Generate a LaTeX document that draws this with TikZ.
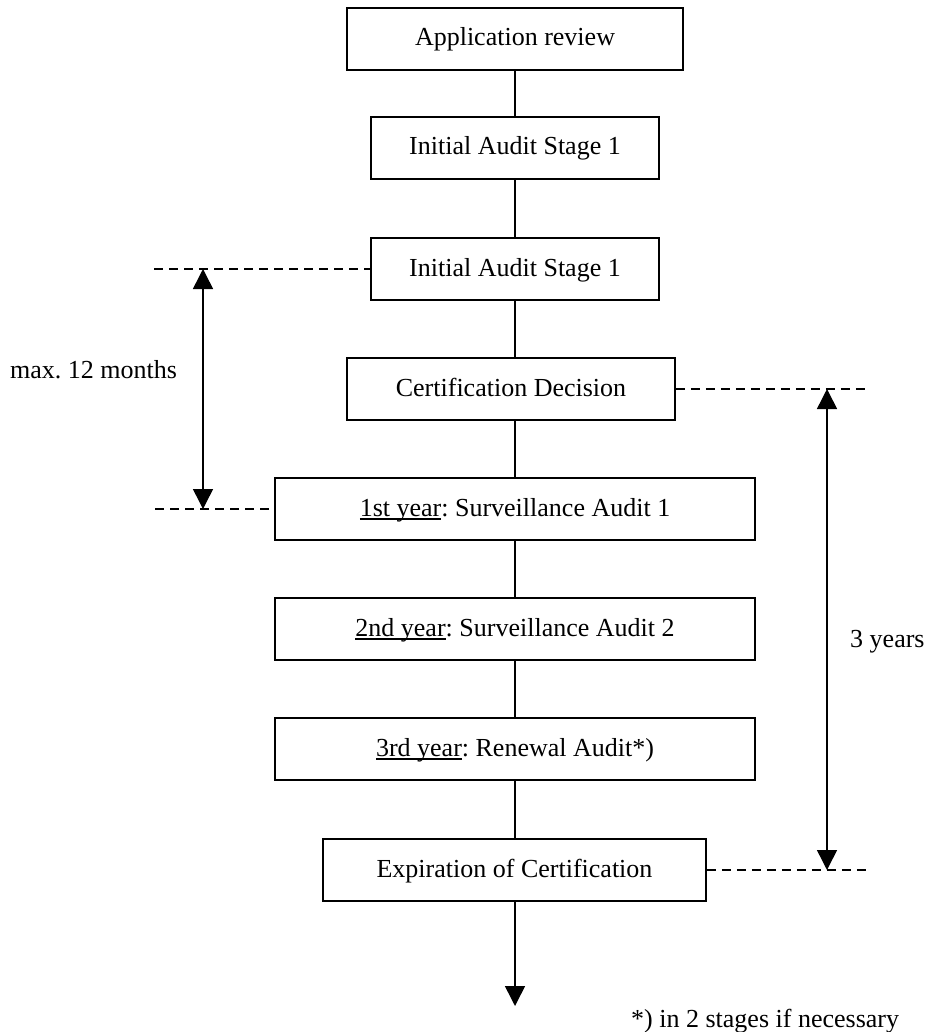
\documentclass[tikz,border=0pt]{standalone}
\usepackage{fontspec}
\setmainfont{Liberation Serif}
\usetikzlibrary{arrows.meta}
\frenchspacing
\newcommand\myul[1]{\leavevmode\setbox0\hbox{#1}\rlap{\rule[-3.5pt]{\wd0}{1.4pt}}\box0}
\tikzset{
  box/.style={draw, line width=1.6pt, minimum height=62pt, inner sep=0pt,
    text height=17pt, text depth=3pt, align=center},
  conn/.style={line width=1.5pt},
  dline/.style={line width=1.5pt, dash pattern=on 9pt off 6pt},
  arr/.style={line width=1.5pt, {Triangle[width=20pt,length=20pt]}-{Triangle[width=20pt,length=20pt]}},
  darr/.style={line width=1.5pt, -{Triangle[width=20pt,length=20pt]}},
  lbl/.style={inner sep=0pt, anchor=base west},
}
\begin{document}
\begin{tikzpicture}[x=1pt,y=-1pt,font=\fontsize{26}{31}\selectfont\frenchspacing]
\useasboundingbox (0,0) rectangle (927,1032);
\fill[white] (0,0) rectangle (927,1032);
\node[box, minimum width=336pt] (app) at (515,39) {Application review};
\node[box, minimum width=288pt] (s1a) at (515,148) {Initial Audit Stage 1};
\node[box, minimum width=288pt] (s1b) at (515,269) {Initial Audit Stage 1};
\node[box, minimum width=328pt] (cert) at (511,389) {Certification Decision};
\node[box, minimum width=480pt] (y1) at (515,509) {\myul{1st year}: Surveillance Audit 1};
\node[box, minimum width=480pt] (y2) at (515,629) {\myul{2nd year}: Surveillance Audit 2};
\node[box, minimum width=480pt] (y3) at (515,749) {\myul{3rd year}: Renewal Audit*)};
\node[box, minimum width=383pt] (exp) at (514.5,870) {Expiration of Certification};
\draw[conn] (app) -- (s1a);
\draw[conn] (s1a) -- (s1b);
\draw[conn] (s1b) -- (s1b |- cert.north);
\draw[conn] (s1b |- cert.south) -- (y1);
\draw[conn] (y1) -- (y2);
\draw[conn] (y2) -- (y3);
\draw[conn] (y3) -- (y3 |- exp.north);
\coordinate (endpt) at (515,1006);
\draw[darr] (exp.south -| endpt) -- (endpt);
% left bracket
\coordinate (l1) at (154,269);
\coordinate (l2) at (155,509);
\coordinate (la1) at (203,269);
\coordinate (la2) at (203,509);
\draw[dline] (l1) -- (s1b.west);
\draw[dline] (l2) -- (y1.west);
\draw[arr] (la1) -- (la2);
\node[lbl] (maxlbl) at (10,378) {max. 12 months};
% right bracket
\coordinate (r1) at (870,389);
\coordinate (r2) at (868,870);
\coordinate (ra1) at (827,389);
\coordinate (ra2) at (827,870);
\draw[dline] (cert.east) -- (r1);
\draw[dline] (exp.east) -- (r2);
\draw[arr] (ra1) -- (ra2);
\node[lbl] (yrs) at (850,647) {3 years};
\node[lbl] (note) at (631,1027) {*) in 2 stages if necessary};
\end{tikzpicture}
\end{document}
